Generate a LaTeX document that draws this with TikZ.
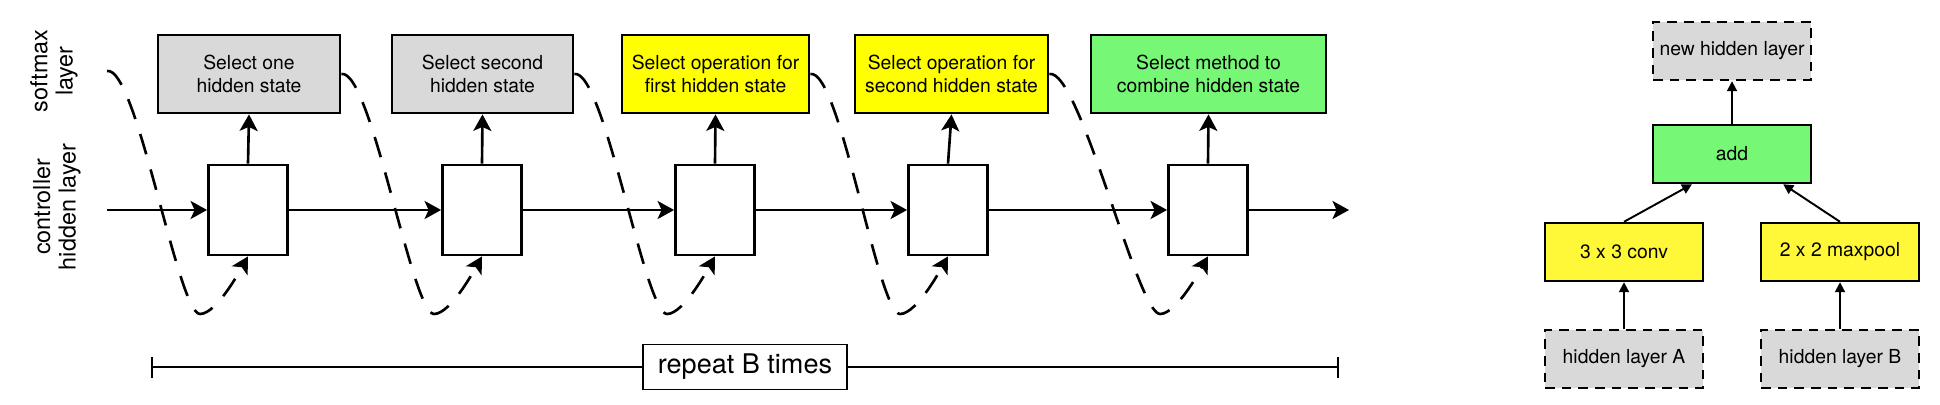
\documentclass[tikz,border=0pt]{standalone}
\usepackage{fontspec}
\setmainfont{TeX Gyre Heros}
\usetikzlibrary{arrows.meta,calc}
\definecolor{boxgray}{RGB}{217,217,217}
\definecolor{opyellow}{RGB}{255,255,0}
\definecolor{paleyellow}{RGB}{255,248,56}
\definecolor{mixgreen}{RGB}{118,247,118}
\tikzset{
	ctrl/.style={draw, line width=1.6pt, fill=white, minimum width=1.58cm, minimum height=1.8cm},
	soft/.style={draw, line width=1.6pt, minimum height=1.56cm, align=center, inner sep=0pt, font=\fontsize{11}{13}\selectfont},
	flow/.style={line width=1.5pt, -{Stealth[length=0.33cm,width=0.36cm,inset=0.08cm]}},
	loopback/.style={flow, dash pattern=on 12pt off 9pt},
	down/.style={out=10, in=180, out looseness=0.3, in looseness=0.22},
	up/.style={out=0, in=240, out looseness=0.6, in looseness=0.3},
	opbox/.style={draw, line width=1.1pt, minimum width=3.16cm, minimum height=1.17cm, font=\fontsize{11}{13}\selectfont},
	hidbox/.style={opbox, fill=boxgray, dash pattern=on 5.5pt off 4pt},
	oparrow/.style={line width=1.1pt, -{Triangle[length=0.2cm,width=0.2cm]}},
}

\begin{document}
\begin{tikzpicture}
			%%%%% START %%%%%
			
			\useasboundingbox (0, 0) rectangle (38.8, 8.08);
			
			\node[rotate=90, align=center, font=\fontsize{13.3}{14.5}\selectfont] (lsoft) at (1.08, 6.66) {softmax\\layer};
			\node[rotate=90, align=center, font=\fontsize{13.3}{14.5}\selectfont] (lhid) at (1.14, 3.94) {controller\\hidden layer};
			
			\node[ctrl] (c1) at (4.96, 3.88) {};
			\node[ctrl] (c2) at (9.64, 3.88) {};
			\node[ctrl] (c3) at (14.3, 3.88) {};
			\node[ctrl] (c4) at (18.96, 3.88) {};
			\node[ctrl] (c5) at (24.16, 3.88) {};
			
			\node[soft, fill=boxgray, minimum width=3.64cm] (s1) at (4.98, 6.6) {Select one\\hidden state};
			\node[soft, fill=boxgray, minimum width=3.62cm] (s2) at (9.65, 6.6) {Select second\\hidden state};
			\node[soft, fill=opyellow, minimum width=3.74cm] (s3) at (14.31, 6.6) {Select operation for\\first hidden state};
			\node[soft, fill=opyellow, minimum width=3.86cm] (s4) at (19.03, 6.6) {Select operation for\\second hidden state};
			\node[soft, fill=mixgreen, minimum width=4.7cm] (s5) at (24.17, 6.6) {Select method to\\combine hidden state};
			
			\coordinate (in) at (2.14, 3.88);
			\coordinate (out) at (26.98, 3.88);
			\coordinate (s0) at (2.14, 6.66);
			
			\coordinate (b1) at (4.0, 1.8);
			\coordinate (b2) at (8.68, 1.8);
			\coordinate (b3) at (13.34, 1.8);
			\coordinate (b4) at (18.0, 1.8);
			\coordinate (b5) at (23.2, 1.8);
			
			\draw[flow] (in) -- (c1.west);
			\draw[flow] (c1.east) -- (c2.west);
			\draw[flow] (c2.east) -- (c3.west);
			\draw[flow] (c3.east) -- (c4.west);
			\draw[flow] (c4.east) -- (c5.west);
			\draw[flow] (c5.east) -- (out);
			
			\draw[flow] (c1.north) -- (s1.south);
			\draw[flow] (c2.north) -- (s2.south);
			\draw[flow] (c3.north) -- (s3.south);
			\draw[flow] (c4.north) -- (s4.south);
			\draw[flow] (c5.north) -- (s5.south);
			
			\draw[loopback] (s0) to[down] (b1) to[up] (c1.south);
			\draw[loopback] (s1.east) to[down] (b2) to[up] (c2.south);
			\draw[loopback] (s2.east) to[down] (b3) to[up] (c3.south);
			\draw[loopback] (s3.east) to[down] (b4) to[up] (c4.south);
			\draw[loopback] (s4.east) to[down] (b5) to[up] (c5.south);
			
			\coordinate (rl) at (3.02, 0.74);
			\coordinate (rr) at (26.78, 0.74);
			\draw[line width=1.1pt, {Bar[width=0.42cm]}-{Bar[width=0.42cm]}] (rl) -- (rr);
			\node[draw, fill=white, line width=1.1pt, minimum width=4.08cm, minimum height=0.9cm, font=\fontsize{15.4}{17}\selectfont] (rep) at (14.9, 0.74) {repeat B times};
			
			\node[hidbox] (newh) at (34.64, 7.06) {new hidden layer};
			\node[opbox, fill=mixgreen] (add) at (34.64, 5.0) {add};
			\node[opbox, fill=paleyellow] (conv) at (32.48, 3.04) {3 x 3 conv};
			\node[opbox, fill=paleyellow] (pool) at (36.8, 3.04) {2 x 2 maxpool};
			\node[hidbox] (ha) at (32.48, 0.9) {hidden layer A};
			\node[hidbox] (hb) at (36.8, 0.9) {hidden layer B};
			
			\draw[oparrow] (ha.north) -- (conv.south);
			\draw[oparrow] (hb.north) -- (pool.south);
			\draw[oparrow] (conv.north) -- ($(add.south west)!0.25!(add.south east)$);
			\draw[oparrow] (pool.north) -- ($(add.south west)!0.82!(add.south east)$);
			\draw[oparrow] (add.north) -- (newh.south);
			
			%%%%% END %%%%%
		\end{tikzpicture}
\end{document}
